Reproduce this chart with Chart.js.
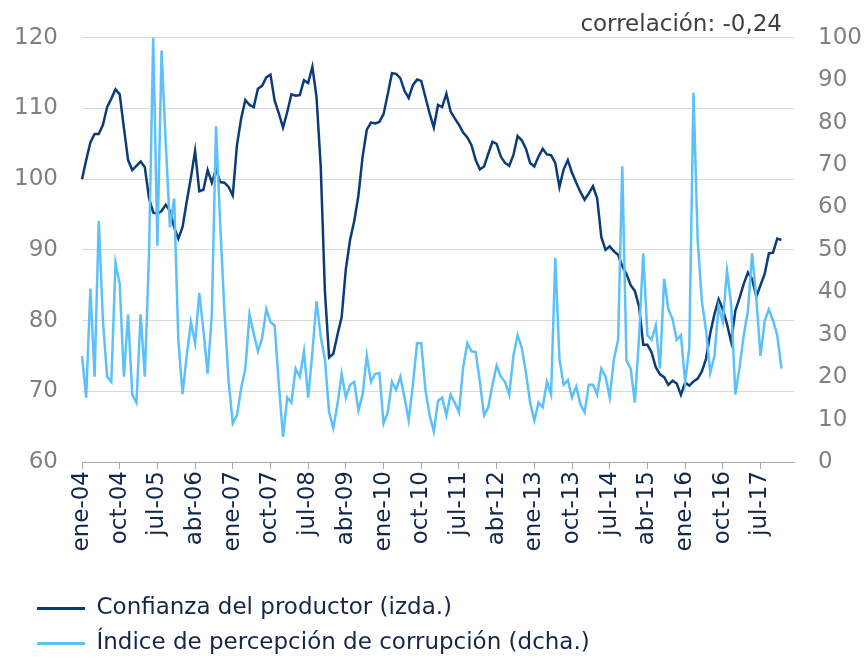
<!DOCTYPE html>
<html>
<head>
<meta charset="utf-8">
<script src="https://cdn.jsdelivr.net/npm/chart.js@4/dist/chart.umd.min.js"></script>
<style>
  html, body { margin: 0; padding: 0; background: #fff; }
  #wrap { width: 864px; height: 659px; }
</style>
</head>
<body>
<div id="wrap"><canvas id="grafico"></canvas></div>
<script>
// Meses ene-04 .. mar-18 (el eje llega un poco mas alla del ultimo dato)
const abrev = ['ene', 'feb', 'mar', 'abr', 'may', 'jun', 'jul', 'ago', 'sep', 'oct', 'nov', 'dic'];
const meses = [];
for (let i = 0; i < 171; i++) {
  meses.push(abrev[i % 12] + '-' + String(4 + Math.floor(i / 12)).padStart(2, '0'));
}

// Confianza del productor (eje izquierdo), ene-04 .. dic-17
const confianza = [
  100, 102.7, 105.2, 106.4, 106.4, 107.7, 110.2, 111.4, 112.7, 112, 107.3, 102.7,
  101.3, 101.9, 102.5, 101.7, 97.3, 95.3, 95.1, 95.5, 96.4, 95.5, 93.2, 91.6,
  93.2, 96.8, 100.2, 104, 98.3, 98.5, 101.3, 99.5, 101.4, 99.6, 99.5, 98.9,
  97.7, 104.8, 108.6, 111.2, 110.5, 110.2, 112.8, 113.2, 114.4, 114.8, 111.1, 109.3,
  107.3, 109.5, 112, 111.8, 111.9, 114, 113.6, 115.9, 111.6, 101.8, 84.1, 74.8,
  75.3, 78, 80.5, 87.3, 91.4, 94.1, 97.7, 103.2, 107, 108, 107.9, 108.1,
  109.2, 112, 115, 114.9, 114.3, 112.5, 111.5, 113.3, 114.1, 113.9, 111.6, 109.3,
  107.3, 110.5, 110.2, 112.1, 109.6, 108.6, 107.7, 106.6, 105.9, 104.8, 102.7, 101.4,
  101.8, 103.6, 105.3, 105, 103.2, 102.3, 101.9, 103.4, 106.1, 105.5, 104.3, 102.3,
  101.8, 103.2, 104.3, 103.5, 103.4, 102.3, 98.9, 101.4, 102.7, 100.9, 99.5, 98.2,
  97.1, 98, 99, 97.3, 91.8, 90, 90.5, 89.8, 89.3, 87.7, 86.6, 85,
  84.2, 82, 76.6, 76.6, 75.5, 73.4, 72.4, 72, 70.9, 71.5, 71.1, 69.5,
  71.2, 70.8, 71.4, 71.8, 72.8, 74.6, 78.2, 80.9, 83, 81.6, 79.5, 77,
  81.4, 83.2, 85.2, 86.8, 85.9, 83.4, 85, 86.6, 89.5, 89.6, 91.6, 91.4
];

// Indice de percepcion de corrupcion (eje derecho), ene-04 .. dic-17
const corrupcion = [
  25, 15.2, 40.9, 20.1, 56.8, 33.3, 20.1, 18.9, 47, 42, 20.1, 34.8,
  15.9, 14, 34.8, 20.1, 49, 100, 51, 97, 75, 55.3, 62.1, 28.8,
  16, 25, 33, 28, 39.8, 31, 20.8, 34.8, 79.2, 56, 35.6, 19,
  9.1, 11, 17.4, 22, 34.8, 30.3, 26.1, 29.2, 36, 33, 32.2, 18.2,
  5.9, 15.2, 14, 22, 20.1, 26.1, 15.2, 25.8, 37.9, 29.5, 24.2, 11.7,
  8, 13.6, 20.8, 15.2, 18.2, 18.9, 12.1, 15.9, 25, 18.9, 20.8, 21,
  9.1, 11.7, 18.9, 17, 20.1, 15.2, 9.8, 18.2, 28, 28, 17, 11,
  7.2, 14.4, 15.2, 11, 15.9, 14, 11.7, 22.3, 28, 26.1, 25.9, 18.9,
  11, 12.9, 18.2, 22.7, 20.1, 18.9, 15.9, 25, 29.9, 26.9, 21, 14,
  9.8, 14, 12.9, 18.9, 15.9, 48.1, 24.2, 18.2, 19.3, 15.2, 17.8, 13.6,
  11.7, 18.2, 18.2, 15.9, 22, 20.1, 15.2, 24.2, 28.8, 69.7, 23.9, 22,
  14, 29.5, 49.2, 29.9, 28.8, 32.2, 22, 43.2, 36, 33.7, 28.8, 29.9,
  18.9, 26.9, 87.1, 52.3, 37.9, 31, 21, 25, 36.7, 33, 45.1, 37.1,
  15.9, 22.3, 29.9, 35.6, 49.2, 38.6, 25, 33.3, 36, 33.3, 29.9, 22
];

const textoCorrelacion = 'correlación: -0,24';
const fuente = '"DejaVu Sans", "Liberation Sans", Arial, sans-serif';

const azulOscuro = '#0b3c77';
const azulClaro = '#5cc1fa';

// etiqueta de correlacion sobre la linea de 120
const correlacionPlugin = {
  id: 'correlacion',
  beforeDatasetsDraw(chart) {
    const ctx = chart.ctx;
    const x = chart.chartArea.right - 12;
    ctx.save();
    ctx.font = '23px ' + fuente;
    const w = ctx.measureText(textoCorrelacion).width;
    ctx.fillStyle = '#ffffff';
    ctx.fillRect(x - w - 4, 8, w + 10, 28);
    ctx.fillStyle = '#404040';
    ctx.textAlign = 'right';
    ctx.textBaseline = 'alphabetic';
    ctx.fillText(textoCorrelacion, x, 31);
    ctx.restore();
  }
};

// la leyenda empieza algo mas a la derecha que el borde del lienzo
const moverLeyenda = {
  id: 'moverLeyenda',
  afterLayout(chart) {
    chart.legend.left += 25;
    chart.legend.right += 25;
  }
};

new Chart(document.getElementById('grafico'), {
  type: 'line',
  data: {
    labels: meses,
    datasets: [
      {
        label: 'Confianza del productor (izda.)',
        data: confianza,
        borderColor: azulOscuro,
        backgroundColor: azulOscuro,
        borderWidth: 2.5,
        pointRadius: 0,
        tension: 0,
        yAxisID: 'y',
        order: 1
      },
      {
        label: 'Índice de percepción de corrupción (dcha.)',
        data: corrupcion,
        borderColor: azulClaro,
        backgroundColor: azulClaro,
        borderWidth: 2.5,
        pointRadius: 0,
        tension: 0,
        yAxisID: 'y1',
        order: 0
      }
    ]
  },
  options: {
    responsive: true,
    maintainAspectRatio: false,
    animation: false,
    layout: { padding: { top: 22, left: 0, right: 0, bottom: -6 } },
    scales: {
      x: {
        afterFit: s => { s.height = 123; },
        border: { display: true, color: '#a6a6a6', width: 1 },
        grid: { drawOnChartArea: false, drawTicks: true, tickLength: 7, color: '#a6a6a6' },
        ticks: {
          autoSkip: false,
          maxRotation: 90,
          minRotation: 90,
          padding: 2,
          color: '#14264a',
          font: { family: fuente, size: 23 },
          callback: function (val, i) {
            return i % 9 === 0 && i <= 162 ? this.getLabelForValue(val) : null;
          }
        }
      },
      y: {
        position: 'left',
        min: 60,
        max: 120,
        afterFit: s => { s.width = 82; },
        border: { display: false },
        grid: { color: '#d9d9d9', drawTicks: false },
        ticks: { stepSize: 10, padding: 24, color: '#808080', font: { family: fuente, size: 23 } }
      },
      y1: {
        position: 'right',
        min: 0,
        max: 100,
        afterFit: s => { s.width = 70; },
        border: { display: false },
        grid: { drawOnChartArea: false, drawTicks: false },
        ticks: { stepSize: 10, padding: 24, color: '#808080', font: { family: fuente, size: 23 } }
      }
    },
    plugins: {
      tooltip: { enabled: false },
      legend: {
        position: 'bottom',
        align: 'start',
        labels: {
          boxWidth: 48,
          boxHeight: 3,
          padding: 12,
          color: '#14264a',
          font: { family: fuente, size: 23 },
          generateLabels: chart => chart.data.datasets.map((ds, i) => ({
            text: ds.label,
            fillStyle: ds.borderColor,
            strokeStyle: ds.borderColor,
            lineWidth: 0,
            fontColor: '#14264a',
            hidden: false,
            datasetIndex: i
          }))
        }
      }
    }
  },
  plugins: [correlacionPlugin, moverLeyenda]
});
</script>
</body>
</html>
